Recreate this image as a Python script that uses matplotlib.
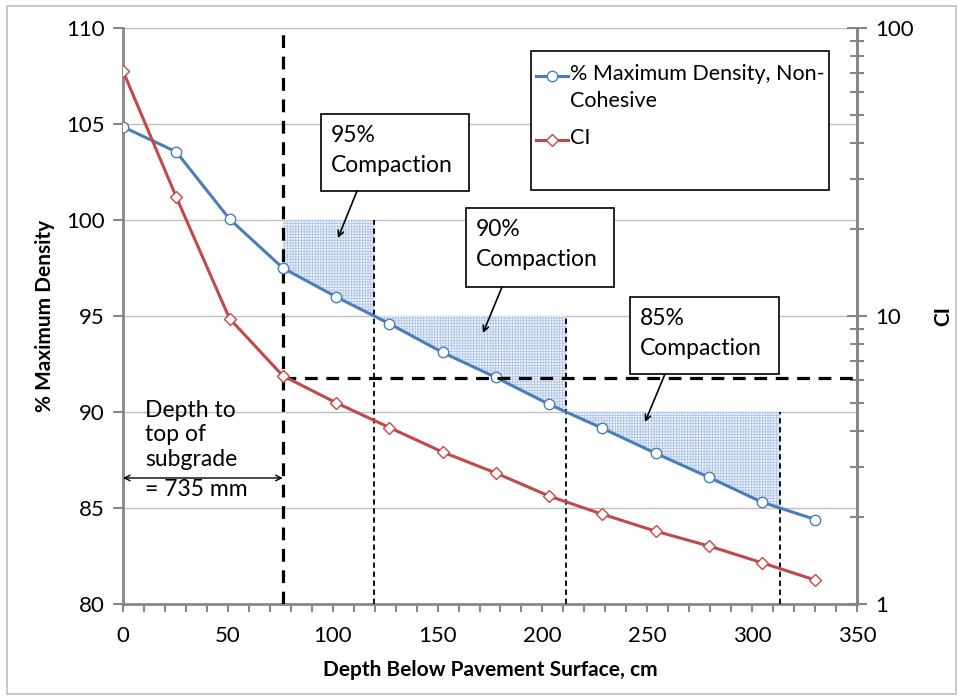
import matplotlib.pyplot as plt
import numpy as np
from matplotlib.lines import Line2D
from matplotlib.patches import Rectangle

plt.rcParams['font.family'] = ['Lato', 'DejaVu Sans']
plt.rcParams['hatch.linewidth'] = 0.5

# data
depth = [0, 25.4, 50.8, 76.2, 101.6, 127.0, 152.4, 177.8, 203.2, 228.6, 254.0, 279.4, 304.8, 330.2]
density = [104.85, 103.55, 100.05, 97.5, 96.0, 94.6, 93.1, 91.8, 90.4, 89.15, 87.85, 86.6, 85.3, 84.4]
ci = [70.9, 25.9, 9.8, 6.2, 5.0, 4.1, 3.37, 2.85, 2.37, 2.05, 1.79, 1.59, 1.39, 1.21]

subgrade_depth = 76.2
ci_level = 6.1
compaction_levels = [100, 95, 90]
compaction_labels = ['95%\nCompaction', '90%\nCompaction', '85%\nCompaction']

blue = '#4a7ebb'
red = '#be4b48'
gray = '#868686'

W, H = 963, 700
fig = plt.figure(figsize=(W / 100, H / 100), dpi=100)
fig.patches.append(Rectangle((7 / W, 6 / H), 949 / W, 688 / H, transform=fig.transFigure,
                             fill=False, edgecolor='#bfbfbf', lw=1.2))
ax = fig.add_axes([123 / W, 1 - 604 / H, (857 - 123) / W, (604 - 28) / H])
ax2 = ax.twinx()

ax.set_xlim(0, 350)
ax.set_ylim(80, 110)
ax2.set_yscale('log')
ax2.set_ylim(1, 100)

ax.spines['top'].set_visible(False)
ax2.spines['top'].set_visible(False)
for s in ['left', 'bottom', 'right']:
    ax.spines[s].set_color(gray)
    ax.spines[s].set_linewidth(2)
ax2.spines['right'].set_color(gray)
ax2.spines['right'].set_linewidth(2)
ax2.spines['left'].set_visible(False)
ax2.spines['bottom'].set_visible(False)

ax.set_xticks(np.arange(0, 351, 50))
ax.set_xticks(np.arange(0, 351, 10), minor=True)
ax.set_yticks(np.arange(80, 111, 5))
ax.tick_params(axis='x', which='both', direction='out', length=6, width=1.5, color=gray,
               labelsize=16, pad=10)
ax.tick_params(axis='y', which='both', direction='out', length=7, width=1.5, color=gray,
               labelsize=16, pad=6)
ax.tick_params(axis='y', which='both', right=False)
ax2.tick_params(axis='y', which='major', direction='inout', length=14, width=1.5, color=gray,
                labelsize=16, pad=6)
ax2.tick_params(axis='y', which='minor', direction='inout', length=10, width=1.5, color=gray)
ax2.yaxis.set_major_formatter(plt.FuncFormatter(lambda v, p: f'{v:g}'))
ax2.yaxis.set_minor_formatter(plt.NullFormatter())

for yv in np.arange(85, 111, 5):
    ax.axhline(yv, color='#bfbfbf', lw=1, zorder=0)

ax.set_xlabel('Depth Below Pavement Surface, cm', fontsize=15, fontweight='bold', labelpad=10)
ax.set_ylabel('% Maximum Density', fontsize=15, fontweight='bold', labelpad=8)
ax2.set_ylabel('CI', fontsize=15, fontweight='bold', labelpad=14)

# compaction zones
rev_d = density[::-1]
rev_x = depth[::-1]
starts = [subgrade_depth]
for lvl in compaction_levels[1:] + [85]:
    starts.append(float(np.interp(lvl, rev_d, rev_x)))
for i, lvl in enumerate(compaction_levels):
    x0, x1 = starts[i], starts[i + 1]
    xs = [x0] + [d for d in depth if x0 < d < x1] + [x1]
    ys = np.interp(xs, depth, density)
    ax.fill_between(xs, ys, lvl, facecolor='#edf2f9', edgecolor='#a9c2e4', hatch='++++++',
                    lw=0, zorder=1)
    ax.vlines(x1, 80, lvl, colors='black', linestyles=(0, (3, 2)), lw=1.3, zorder=3)

ax.vlines(subgrade_depth, 80, 110, colors='black', linestyles=(0, (4, 2.7)), lw=2.3, zorder=4)
ax2.hlines(ci_level, subgrade_depth, 350, colors='black', linestyles=(0, (4, 2.7)), lw=2.3, zorder=4)

ax.plot(depth, density, color=blue, lw=2.2, marker='o', ms=7.5, mfc='white', mec=blue,
        mew=1, zorder=5)
ax2.plot(depth, ci, color=red, lw=2.2, marker='D', ms=6.5, mfc='white', mec=red,
         mew=1, zorder=5)


def px(xp, yp):
    return (xp - 123) / (857 - 123) * 350, 110 - (yp - 28) / 19.2


# annotation boxes
boxes = [(321, 114, 469, 191), (466, 208, 614, 287), (630, 297, 779, 374)]
arrows = [((357, 191), (338, 238)), ((502, 287), (483, 333)), ((665, 374), (645, 422))]
for (l, t, r, b), txt, (a0, a1) in zip(boxes, compaction_labels, arrows):
    x0, y0 = px(l, b)
    x1, y1 = px(r, t)
    ax.add_patch(Rectangle((x0, y0), x1 - x0, y1 - y0, facecolor='white', edgecolor='black',
                           lw=1.2, zorder=6))
    tx, ty = px(l + 10, t + 11)
    ax.text(tx, ty, txt, fontsize=16.5, ha='left', va='top', linespacing=1.55, zorder=7)
    ax.annotate('', xy=px(*a1), xytext=px(*a0),
                arrowprops=dict(arrowstyle='->', color='black', lw=1.2,
                                shrinkA=0, shrinkB=0), zorder=7)

tx, ty = px(145, 400)
ax.text(tx, ty, 'Depth to\ntop of\nsubgrade', fontsize=16.5, ha='left', va='top',
        linespacing=1.2, zorder=7)
tx, ty = px(145, 490)
ax.text(tx, ty, '= 735 mm', fontsize=16.5, ha='left', va='center', zorder=7)
ax.annotate('', xy=(0, px(0, 478)[1]), xytext=(subgrade_depth, px(0, 478)[1]),
            arrowprops=dict(arrowstyle='<->', color='black', lw=1, shrinkA=0, shrinkB=0),
            zorder=7)

# legend, drawn by hand so the marker sits on the first text line
fig.patches.append(Rectangle((531 / W, 1 - 190 / H), 298 / W, 139 / H, transform=fig.transFigure,
                             facecolor='white', edgecolor='black', lw=1.2, zorder=6))
legend_items = [('% Maximum Density, Non-\nCohesive', blue, 'o', 7.5, 76),
                ('CI', red, 'D', 6.5, 140)]
for label, col, mk, ms, yp in legend_items:
    yf = 1 - yp / H
    fig.lines.append(Line2D([536 / W, 568 / W], [yf, yf], transform=fig.transFigure, color=col,
                            lw=2.2, zorder=7))
    fig.lines.append(Line2D([552 / W], [yf], transform=fig.transFigure, color=col, marker=mk,
                            ms=ms, mfc='white', mec=col, mew=1, zorder=8))
    fig.text(570 / W, 1 - (yp - 12) / H, label, fontsize=15.5, ha='left', va='top',
             linespacing=1.45, zorder=8)

fig.savefig('out.png', dpi=100)
